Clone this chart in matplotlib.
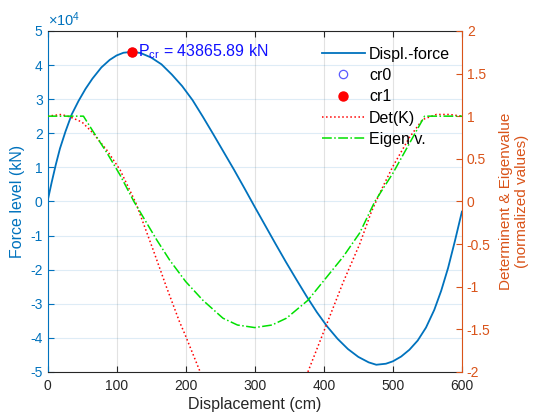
import matplotlib

matplotlib.use("Agg")
import matplotlib.pyplot as plt
import numpy as np
from matplotlib.ticker import FuncFormatter, MultipleLocator

plt.rcParams["font.family"] = ["Liberation Sans", "DejaVu Sans"]
plt.rcParams["mathtext.fontset"] = "custom"
plt.rcParams["mathtext.rm"] = "Liberation Sans"
plt.rcParams["mathtext.it"] = "Liberation Sans"
plt.rcParams["axes.unicode_minus"] = False

# displacement-force curve (cm, kN)
disp = [0, 6, 12, 18, 26, 35, 45, 55, 65, 78, 90, 100, 110, 123, 135, 150,
        165, 180, 195, 210, 225, 240, 255, 270, 285, 300, 315, 330, 345, 360,
        375, 390, 405, 420, 435, 450, 465, 476, 490, 500, 512, 524, 536, 548,
        560, 570, 580, 590, 600]
force = [0, 5600, 10800, 15500, 20500, 25500, 29500, 33000, 36000, 39300,
         41500, 42800, 43600, 43866, 43500, 42200, 40200, 37200, 33800, 29700,
         24800, 19700, 14500, 9300, 3900, -1600, -7000, -12400, -17700,
         -22800, -27800, -32500, -36700, -40300, -43300, -45600, -47200,
         -47900, -47600, -46900, -45500, -43500, -40800, -37000, -31800,
         -26200, -19500, -11500, -3000]

# critical points
cr0_x = [123]
cr0_y = [43865.89]
cr1_x = [123]
cr1_y = [43865.89]
cr_label = "43865.89"

# normalized determinant of K (NaN where it leaves the axis)
det_x = [0, 10, 20, 33, 50, 66, 86, 105, 128, 153, 172, 191, 199, 221,
         300,
         377, 394, 428, 452, 469, 483, 500, 524, 543, 563, 582, 600]
det_y = [1.0, 1.01, 1.02, 0.99, 0.93, 0.80, 0.60, 0.37, -0.02, -0.57, -1.0,
         -1.41, -1.56, -2.0,
         np.nan,
         -2.0, -1.65, -0.95, -0.5, -0.12, 0.13, 0.41, 0.75, 0.96, 1.02, 1.02,
         1.0]

# normalized eigenvalue
eig_x = [0, 52, 66, 86, 105, 125, 158, 177, 200, 225, 254, 275, 300, 325,
         346, 377, 400, 428, 452, 474, 500, 524, 546, 600]
eig_y = [1.0, 1.0, 0.82, 0.57, 0.31, 0.0, -0.45, -0.69, -0.94, -1.16, -1.37,
         -1.45, -1.48, -1.45, -1.37, -1.16, -0.93, -0.65, -0.37, 0.0, 0.33,
         0.68, 1.0, 1.0]

c_left = "#0072BD"
c_right = "#D95319"
c_dark = "#262626"

fig = plt.figure(figsize=(5.34, 4.16), dpi=100)
ax = fig.add_axes([0.089, 0.106, 0.776, 0.8197])
ax2 = ax.twinx()

h_force, = ax.plot(disp, force, color=c_left, linewidth=1.3, label="Displ.-force")
h_cr0, = ax.plot(cr0_x, cr0_y, "o", markerfacecolor="none", markeredgecolor="#5a5aff",
                 markersize=6, markeredgewidth=0.9, linestyle="none", label="cr0")
h_cr1, = ax.plot(cr1_x, cr1_y, "o", color="red", markersize=6.5, linestyle="none",
                 label="cr1")
ax.annotate(r"$\mathregular{P_{cr}}$ = " + cr_label + " kN", xy=(cr1_x[0], cr1_y[0]),
            xytext=(6, -4), textcoords="offset pixels", ha="left", va="baseline",
            color="#1010ff", fontsize=11.5)

h_det, = ax2.plot(det_x, det_y, color="red", linestyle=":", linewidth=1.1, label="Det(K)")
h_eig, = ax2.plot(eig_x, eig_y, color="#00e000", linestyle="-.", linewidth=1.1,
                  label="Eigen v.")

ax.set_xlim(0, 600)
ax.set_ylim(-5e4, 5e4)
ax2.set_ylim(-2, 2)
ax.xaxis.set_major_locator(MultipleLocator(100))
ax.yaxis.set_major_locator(MultipleLocator(1e4))
ax.yaxis.set_major_formatter(FuncFormatter(lambda v, _: f"{v / 1e4:g}"))
ax2.yaxis.set_major_locator(MultipleLocator(0.5))
ax2.yaxis.set_major_formatter(FuncFormatter(lambda v, _: f"{v:g}"))

ax.grid(True, axis="x", color=c_dark, alpha=0.13, linewidth=0.8)
ax.grid(True, axis="y", color=c_left, alpha=0.13, linewidth=0.8)

ax.tick_params(axis="x", direction="in", top=True, length=4, colors=c_dark,
               labelsize=10, pad=5)
ax.tick_params(axis="y", direction="in", length=4, colors=c_left, labelsize=10)
ax2.tick_params(axis="y", direction="in", length=4, colors=c_right, labelsize=10)

for side in ("top", "bottom"):
    ax.spines[side].set_color(c_dark)
    ax2.spines[side].set_visible(False)
ax.spines["left"].set_color(c_left)
ax.spines["right"].set_visible(False)
ax2.spines["left"].set_visible(False)
ax2.spines["right"].set_color(c_right)

ax.set_xlabel("Displacement (cm)", color=c_dark, fontsize=11.5, labelpad=3)
ax.set_ylabel("Force level (kN)", color=c_left, fontsize=11.5, labelpad=4)
ax2.set_ylabel("Determinent & Eigenvalue\n(normalized values)", color=c_right,
               fontsize=11, labelpad=6)
ax.text(0.0, 1.005, r"$\times\mathregular{10^{4}}$", transform=ax.transAxes,
        ha="left", va="bottom", color=c_left, fontsize=10.5)

ax2.legend(handles=[h_force, h_cr0, h_cr1, h_det, h_eig], loc="upper left",
           bbox_to_anchor=(0.635, 0.987), frameon=False, fontsize=11.5,
           handlelength=2.7, handletextpad=0.25, labelspacing=0.4, borderpad=0.2)

fig.savefig("out.png", dpi=100)
